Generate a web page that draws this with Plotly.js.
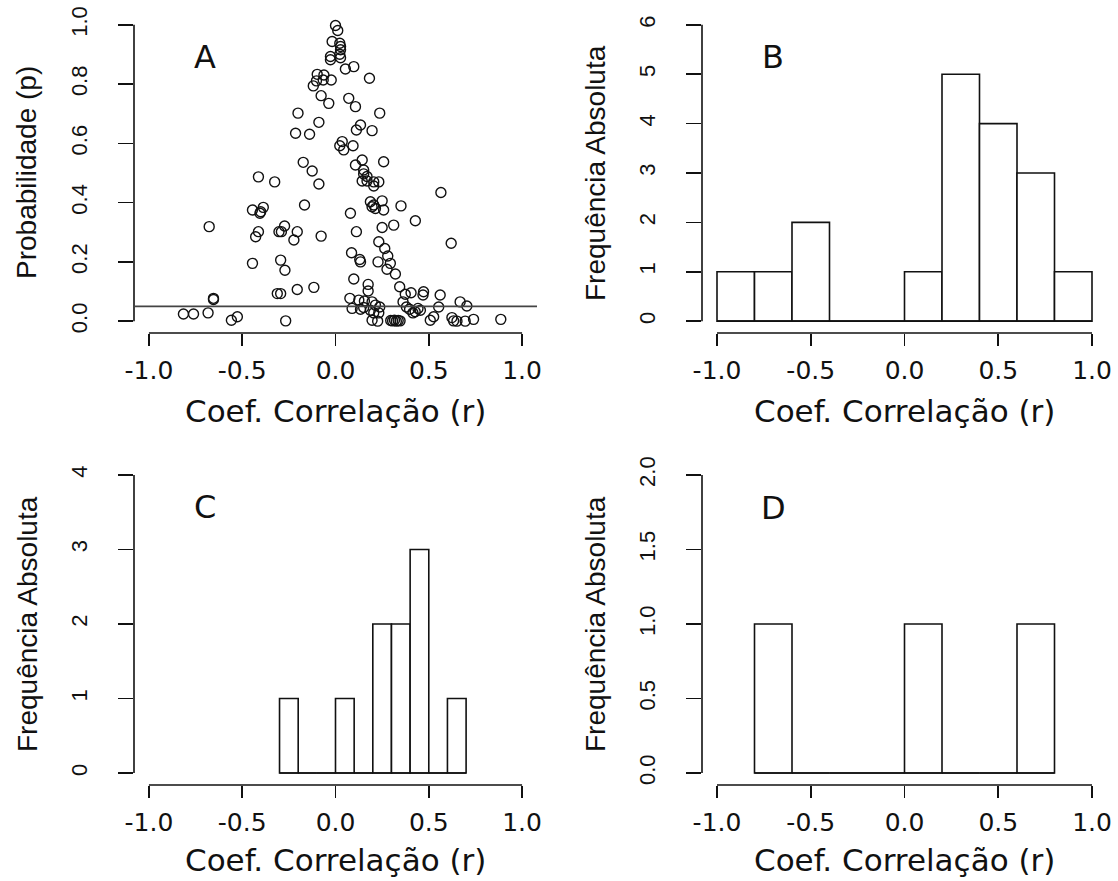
<!DOCTYPE html>
<html><head><meta charset="utf-8">
<script src="https://cdn.plot.ly/plotly-3.0.1.min.js"></script>
<style>html,body{margin:0;padding:0;background:#fff}</style>
</head><body><div id="chart" style="width:1118px;height:881px"></div>
<script>
// ---- Panel A: correlation coefficient (r) vs probability (p) ----
const rValues = [
 0.000,0.012,-0.018,0.023,0.027,0.027,0.023,-0.027,-0.027,0.027,0.053,0.098,-0.098,-0.062,-0.102,-0.066,-0.023,-0.119,0.182,-0.077,-0.036,0.071,0.107,
 -0.201,0.237,-0.089,0.134,0.112,0.196,-0.214,-0.139,0.036,0.023,0.044,0.094,-0.173,-0.125,0.143,0.107,0.258,0.151,
 0.151,0.169,0.143,0.169,0.205,0.232,0.205,-0.413,-0.326,-0.089,
 0.565,-0.166,0.187,0.196,0.214,0.205,0.250,0.258,0.351,-0.445,-0.401,-0.387,-0.405,0.080,0.428,-0.677,-0.413,-0.428,-0.303,-0.290,-0.273,-0.205,-0.223,-0.077,0.112,0.250,0.312,
 0.620,0.232,0.264,0.280,0.294,0.321,0.228,0.276,0.086,0.130,0.134,-0.445,-0.294,-0.271,0.098,0.175,0.175,-0.205,-0.116,0.344,
 0.374,0.405,0.472,0.469,0.561,-0.312,-0.294,-0.654,-0.654,
 0.077,0.125,0.155,0.196,0.214,0.089,0.134,0.151,0.187,0.205,0.232,0.237,
 0.362,0.380,0.397,0.415,0.427,0.442,0.455,
 0.553,0.526,0.508,0.668,0.704,
 0.624,0.633,0.651,0.695,0.740,0.886,
 0.296,0.306,0.316,0.326,0.336,0.346,
 0.196,0.226,
 -0.815,-0.761,-0.683,-0.558,-0.526,-0.267
];
const pValues = [
 0.998,0.981,0.944,0.938,0.927,0.916,0.901,0.893,0.882,0.889,0.851,0.859,0.833,0.831,0.811,0.814,0.814,0.794,0.820,0.761,0.735,0.752,0.724,
 0.702,0.702,0.671,0.662,0.645,0.643,0.634,0.631,0.606,0.592,0.578,0.592,0.536,0.507,0.544,0.527,0.538,0.510,
 0.497,0.488,0.473,0.473,0.470,0.470,0.456,0.487,0.470,0.463,
 0.434,0.392,0.403,0.386,0.380,0.392,0.406,0.375,0.389,0.375,0.369,0.384,0.364,0.364,0.339,0.319,0.302,0.285,0.302,0.302,0.321,0.302,0.274,0.287,0.302,0.316,0.324,
 0.263,0.268,0.245,0.220,0.195,0.159,0.200,0.175,0.231,0.208,0.200,0.195,0.206,0.172,0.142,0.124,0.102,0.107,0.114,0.116,
 0.091,0.096,0.099,0.088,0.088,0.093,0.093,0.077,0.073,
 0.077,0.071,0.068,0.065,0.054,0.043,0.040,0.046,0.037,0.028,0.028,0.048,
 0.065,0.048,0.040,0.028,0.032,0.043,0.037,
 0.048,0.015,0.003,0.065,0.051,
 0.012,0.001,0.000,0.000,0.006,0.006,
 0.002,0.001,0.003,0.000,0.002,0.001,
 0.003,0.000,
 0.024,0.024,0.028,0.003,0.015,0.001
];
const pThreshold = 0.05;

// ---- Histograms ----
const binStartsB = [-1.0,-0.8,-0.6,-0.4,-0.2,0.0,0.2,0.4,0.6,0.8];
const countsB    = [1,1,2,0,0,1,5,4,3,1];
const binWidthB  = 0.2;
const binStartsC = [-0.3,-0.2,-0.1,0.0,0.1,0.2,0.3,0.4,0.5,0.6];
const countsC    = [1,0,0,1,0,2,2,3,0,1];
const binWidthC  = 0.1;
const binStartsD = [-0.8,-0.6,-0.4,-0.2,0.0,0.2,0.4,0.6];
const countsD    = [1,0,0,0,1,0,0,1];
const binWidthD  = 0.2;

// ---- Tick labels & text ----
const xTickVals = [-1,-0.5,0,0.5,1];
const xTickText = ['-1.0','-0.5','0.0','0.5','1.0'];
const yTickValsA = [0,0.2,0.4,0.6,0.8,1.0];
const yTickTextA = ['0.0','0.2','0.4','0.6','0.8','1.0'];
const yTickValsB = [0,1,2,3,4,5,6];
const yTickTextB = ['0','1','2','3','4','5','6'];
const yTickValsC = [0,1,2,3,4];
const yTickTextC = ['0','1','2','3','4'];
const yTickValsD = [0,0.5,1.0,1.5,2.0];
const yTickTextD = ['0.0','0.5','1.0','1.5','2.0'];
const xTitle = 'Coef. Correlação (r)';
const yTitleA = 'Probabilidade (p)';
const yTitleHist = 'Frequência Absoluta';
const panelLetters = ['A','B','C','D'];

// ---------------------------------------------------------
const W = 1118, H = 881;
const INK = '#111';
const wideFont = 'DejaVu Sans';
const narrowFont = 'Liberation Sans, Arial, sans-serif';

function histTraces(starts, counts, width, xa, ya) {
  const bars = {
    type: 'bar', x: starts, y: counts, width: starts.map(() => width), offset: 0,
    marker: {color: '#ffffff', line: {color: INK, width: 1.6}},
    xaxis: xa, yaxis: ya, hoverinfo: 'x+y', showlegend: false
  };
  const lo = starts[0], hi = starts[starts.length - 1] + width;
  const base = {
    type: 'scatter', mode: 'lines', x: [lo, hi], y: [0, 0],
    line: {color: INK, width: 1.6}, xaxis: xa, yaxis: ya, hoverinfo: 'skip', showlegend: false
  };
  return [base, bars];
}

const traces = [
  {type: 'scatter', mode: 'markers', x: rValues, y: pValues, xaxis: 'x', yaxis: 'y',
   marker: {symbol: 'circle-open', size: 10, color: INK, line: {width: 1.4, color: INK}},
   showlegend: false}
].concat(
  histTraces(binStartsB, countsB, binWidthB, 'x2', 'y2'),
  histTraces(binStartsC, countsC, binWidthC, 'x3', 'y3'),
  histTraces(binStartsD, countsD, binWidthD, 'x4', 'y4')
);

const px = v => v / W;           // horizontal pixel -> paper
const py = v => 1 - v / H;        // vertical pixel -> paper

function xAxis(domain) {
  return {
    domain: domain, range: [-1.08, 1.08], tickmode: 'array', tickvals: xTickVals, ticktext: xTickText,
    showgrid: false, zeroline: false, showline: false, ticks: 'outside', ticklen: 12, tickwidth: 1.6,
    tickcolor: INK, ticklabelstandoff: 3,
    tickfont: {family: wideFont, size: 25, color: INK}, fixedrange: true
  };
}
function yAxis(domain, range, vals, text) {
  return {
    domain: domain, range: range, tickmode: 'array', tickvals: vals, ticktext: text,
    showgrid: false, zeroline: false, showline: false, ticks: 'outside', ticklen: 15, tickwidth: 1.6,
    tickcolor: INK, tickangle: -90, ticklabelstandoff: 22,
    tickfont: {family: narrowFont, size: 22, color: INK}, fixedrange: true
  };
}

const domXLeft = [px(134), px(537)];
const domXRight = [px(702), px(1107)];
const domYTop = [py(333), py(13)];
const domYBot = [py(785), py(463)];

function axisLines(xa, ya, yMin, yMax) {
  const xd = xa + ' domain', yd = ya + ' domain';
  return [
    {type: 'line', xref: xa, yref: yd, x0: xTickVals[0], x1: xTickVals[xTickVals.length - 1], y0: 0, y1: 0,
     line: {color: INK, width: 1.6}},
    {type: 'line', xref: xd, yref: ya, x0: 0, x1: 0, y0: yMin, y1: yMax, line: {color: INK, width: 1.6}}
  ];
}

const shapes = [].concat(
  axisLines('x', 'y', yTickValsA[0], yTickValsA[yTickValsA.length - 1]),
  axisLines('x2', 'y2', yTickValsB[0], yTickValsB[yTickValsB.length - 1]),
  axisLines('x3', 'y3', yTickValsC[0], yTickValsC[yTickValsC.length - 1]),
  axisLines('x4', 'y4', yTickValsD[0], yTickValsD[yTickValsD.length - 1]),
  [{type: 'line', xref: 'x domain', yref: 'y', x0: 0, x1: 1, y0: pThreshold, y1: pThreshold,
    line: {color: '#444', width: 1.6}}]
);

const titleFontH = {family: wideFont, size: 31, color: INK};
const titleFontV = {family: narrowFont, size: 28, color: INK};
const letterFont = {family: wideFont, size: 32, color: INK};

const annotations = [
  // x-axis titles
  {xref: 'x domain', yref: 'paper', x: 0.5, y: py(411), text: xTitle, showarrow: false, font: titleFontH, xanchor: 'center', yanchor: 'middle'},
  {xref: 'x2 domain', yref: 'paper', x: 0.5, y: py(411), text: xTitle, showarrow: false, font: titleFontH, xanchor: 'center', yanchor: 'middle'},
  {xref: 'x3 domain', yref: 'paper', x: 0.5, y: py(860), text: xTitle, showarrow: false, font: titleFontH, xanchor: 'center', yanchor: 'middle'},
  {xref: 'x4 domain', yref: 'paper', x: 0.5, y: py(860), text: xTitle, showarrow: false, font: titleFontH, xanchor: 'center', yanchor: 'middle'},
  // y-axis titles
  {xref: 'paper', yref: 'y domain', x: px(26), y: 0.5, text: yTitleA, textangle: -90, showarrow: false, font: titleFontV, xanchor: 'center', yanchor: 'middle'},
  {xref: 'paper', yref: 'y2 domain', x: px(595), y: 0.5, text: yTitleHist, textangle: -90, showarrow: false, font: titleFontV, xanchor: 'center', yanchor: 'middle'},
  {xref: 'paper', yref: 'y3 domain', x: px(27), y: 0.5, text: yTitleHist, textangle: -90, showarrow: false, font: titleFontV, xanchor: 'center', yanchor: 'middle'},
  {xref: 'paper', yref: 'y4 domain', x: px(595), y: 0.5, text: yTitleHist, textangle: -90, showarrow: false, font: titleFontV, xanchor: 'center', yanchor: 'middle'},
  // panel letters
  {xref: 'x', yref: 'y', x: -0.70, y: 0.89, text: panelLetters[0], showarrow: false, font: letterFont},
  {xref: 'x2', yref: 'y2', x: -0.70, y: 5.35, text: panelLetters[1], showarrow: false, font: letterFont},
  {xref: 'x3', yref: 'y3', x: -0.70, y: 3.57, text: panelLetters[2], showarrow: false, font: letterFont},
  {xref: 'x4', yref: 'y4', x: -0.70, y: 1.78, text: panelLetters[3], showarrow: false, font: letterFont}
];

const layout = {
  width: W, height: H, margin: {l: 0, r: 0, t: 0, b: 0, pad: 0},
  paper_bgcolor: '#ffffff', plot_bgcolor: '#ffffff', showlegend: false,
  xaxis: Object.assign(xAxis(domXLeft), {anchor: 'y'}),
  yaxis: Object.assign(yAxis(domYTop, [-0.04, 1.04], yTickValsA, yTickTextA), {anchor: 'x'}),
  xaxis2: Object.assign(xAxis(domXRight), {anchor: 'y2'}),
  yaxis2: Object.assign(yAxis(domYTop, [-0.24, 6.24], yTickValsB, yTickTextB), {anchor: 'x2'}),
  xaxis3: Object.assign(xAxis(domXLeft), {anchor: 'y3'}),
  yaxis3: Object.assign(yAxis(domYBot, [-0.16, 4.16], yTickValsC, yTickTextC), {anchor: 'x3'}),
  xaxis4: Object.assign(xAxis(domXRight), {anchor: 'y4'}),
  yaxis4: Object.assign(yAxis(domYBot, [-0.08, 2.08], yTickValsD, yTickTextD), {anchor: 'x4'}),
  shapes: shapes, annotations: annotations
};

Plotly.newPlot('chart', traces, layout, {displayModeBar: false, staticPlot: true});
</script>
</body></html>
